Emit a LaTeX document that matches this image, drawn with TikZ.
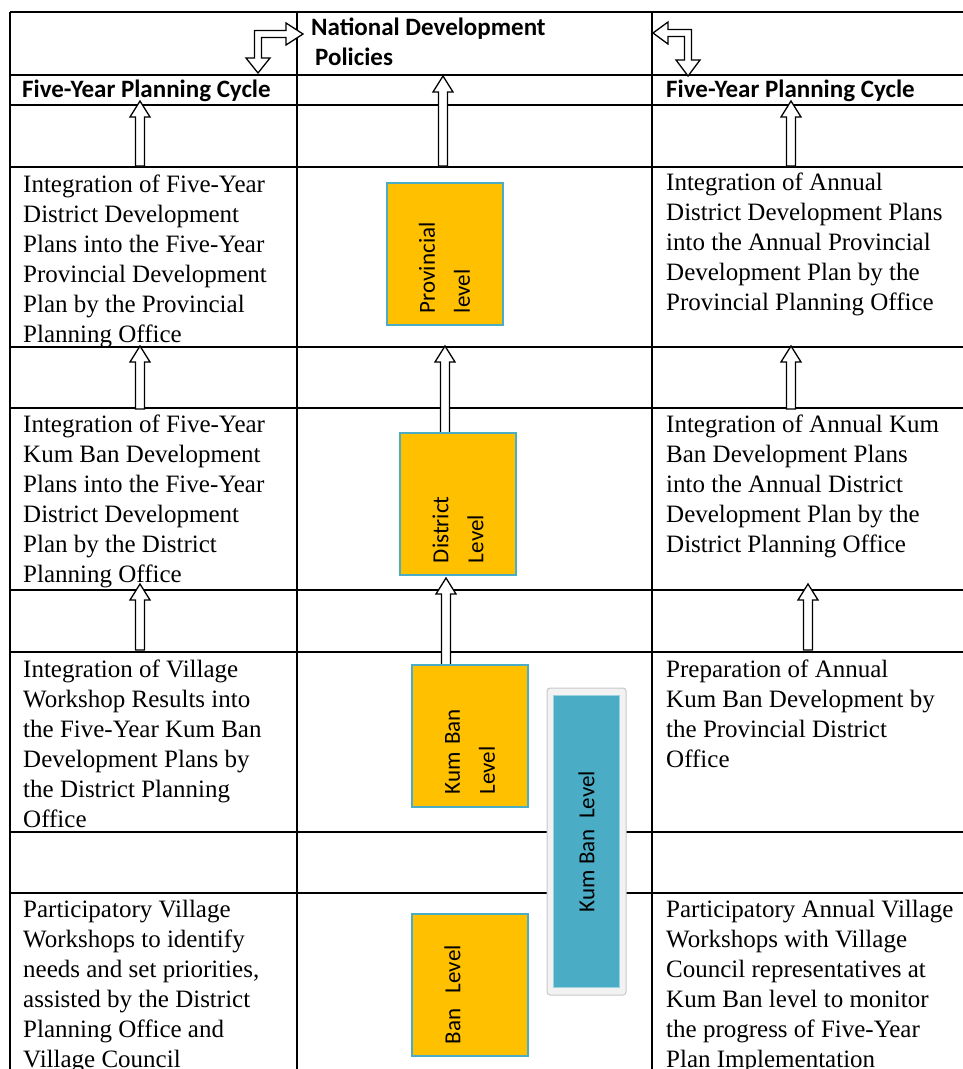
\documentclass[tikz,border=0pt]{standalone}
\usepackage{fontspec}
\setmainfont{Liberation Serif}
\newfontfamily\calibri{Carlito}
\usepackage{tikz}
\usetikzlibrary{calc, positioning}
\definecolor{levelorange}{HTML}{FFC000}
\definecolor{levelblue}{HTML}{4BACC6}
\definecolor{frameborder}{HTML}{C8C8C8}
\definecolor{framefill}{HTML}{F2F2F2}

\begin{document}
\begin{tikzpicture}[x=1pt, y=-1pt,
    thinrule/.style={line width=1.1pt},
    thickrule/.style={line width=2.4pt},
    cell/.style={anchor=north west, inner sep=0pt, align=left,
        font=\fontsize{25}{30}\selectfont},
    head/.style={inner sep=0pt, align=left,
        font=\calibri\bfseries\fontsize{25}{30}\selectfont},
    levelbox/.style={rotate=90, fill=levelorange, draw=levelblue, line width=2pt,
        minimum height=116pt, text width=118pt, inner xsep=12pt, align=left,
        font=\calibri\fontsize{23}{35}\selectfont},
    uparrow/.style={draw=black, line width=1.3pt, fill=white,
        to path={let \p1=(\tikztostart), \p2=(\tikztotarget) in
            (\x1-4.5pt,\y1) -- (\x1-4.5pt,\y2-16pt) -- (\x1-10pt,\y2-16pt) -- (\x1,\y2)
            -- (\x1+10pt,\y2-16pt) -- (\x1+4.5pt,\y2-16pt) -- (\x1+4.5pt,\y1) -- cycle}},
    bentarrow/.style={draw=black, line width=1.3pt, fill=white}]

\useasboundingbox (0,0) rectangle (963,1069);

% table rules
\draw[thickrule] (10,12) -- (963,12);
\foreach \y in {75,105,167,408,590,652,893}
    \draw[thinrule] (10,\y) -- (963,\y);
\draw[thickrule] (10,347) -- (963,347);
\draw[thickrule] (10,832) -- (963,832);
\foreach \x in {10,297,652}
    \draw[thinrule] (\x,12) -- (\x,1069);

% arrow end points
\coordinate (l1s) at (140,166);  \coordinate (l1t) at (140,101);
\coordinate (l2s) at (140,409);  \coordinate (l2t) at (140,346);
\coordinate (l3s) at (140,650);  \coordinate (l3t) at (140,584);
\coordinate (m1s) at (443,166);  \coordinate (m1t) at (443,76);
\coordinate (m2s) at (445,440);  \coordinate (m2t) at (445,346);
\coordinate (m3s) at (446,670);  \coordinate (m3t) at (446,578);
\coordinate (r1s) at (791,166);  \coordinate (r1t) at (791,101);
\coordinate (r2s) at (791,409);  \coordinate (r2t) at (791,346);
\coordinate (r3s) at (808,650);  \coordinate (r3t) at (808,584);

\foreach \a in {l1,l2,l3,m1,m2,m3,r1,r2,r3}
    \draw[uparrow] (\a s) to (\a t);

% bent arrows to and from the national policies
\coordinate (lbend) at (258,34);
\coordinate (rbend) at (688,33);
\draw[bentarrow] (258,73) -- (270,58) -- (261.5,58) -- (261.5,37.5) -- (286,37.5)
    -- (286,45) -- (303,34) -- (286,23) -- (286,30.5) -- (254.5,30.5) -- (254.5,58)
    -- (246,58) -- cycle;
\draw[bentarrow] (653,33) -- (668,22) -- (668,29.5) -- (691.5,29.5) -- (691.5,60)
    -- (700,60) -- (688,76) -- (676,60) -- (684.5,60) -- (684.5,36.5) -- (668,36.5)
    -- (668,44) -- cycle;

% level boxes
\node[levelbox] (prov) at (444.5,254) {Provincial\\level};
\node[levelbox] (dist) at (458,504) {District\\Level};
\node[levelbox] (kumban) at (470,735.5) {Kum Ban\\Level};
\node[levelbox] (ban) at (470,985) {Ban\ \ Level\\\mbox{}};

\node[fill=framefill, draw=frameborder, rounded corners=3pt, line width=1pt,
    minimum width=79pt, minimum height=307pt] (kbframe) at (586.5,841.5) {};
\node[rotate=90, fill=levelblue, draw=levelblue!55, line width=1pt, inner sep=0pt,
    minimum width=292pt, minimum height=66pt,
    font=\calibri\fontsize{23}{28}\selectfont] (kbtall) at (kbframe.center) {Kum Ban\ \ Level};

% headings
\node[head, anchor=north west] (natpol) at (311,18) {National Development\\\hspace{4pt}Policies};
\node[head, anchor=base west] (fyleft) at (22,97) {Five-Year Planning Cycle};
\node[head, anchor=base west] (fyright) at (666,97) {Five-Year Planning Cycle};

% left column
\node[cell] (lprov) at (23,175) {Integration of Five-Year\\District Development\\Plans into the Five-Year\\Provincial Development\\Plan by the Provincial\\Planning Office};
\node[cell] (ldist) at (23,415) {Integration of Five-Year\\Kum Ban Development\\Plans into the Five-Year\\District Development\\Plan by the District\\Planning Office};
\node[cell] (lkum) at (23,660) {Integration of Village\\Workshop Results into\\the Five-Year Kum Ban\\Development Plans by\\the District Planning\\Office};
\node[cell] (lban) at (23,900) {Participatory Village\\Workshops to identify\\needs and set priorities,\\assisted by the District\\Planning Office and\\Village Council};

% right column
\node[cell] (rprov) at (666,173) {Integration of Annual\\District Development Plans\\into the Annual Provincial\\Development Plan by the\\Provincial Planning Office};
\node[cell] (rdist) at (666,415) {Integration of Annual Kum\\Ban Development Plans\\into the Annual District\\Development Plan by the\\District Planning Office};
\node[cell] (rkum) at (666,660) {Preparation of Annual\\Kum Ban Development by\\the Provincial District\\Office};
\node[cell] (rban) at (666,900) {Participatory Annual Village\\Workshops with Village\\Council representatives at\\Kum Ban level to monitor\\the progress of Five-Year\\Plan Implementation};
\end{tikzpicture}
\end{document}
